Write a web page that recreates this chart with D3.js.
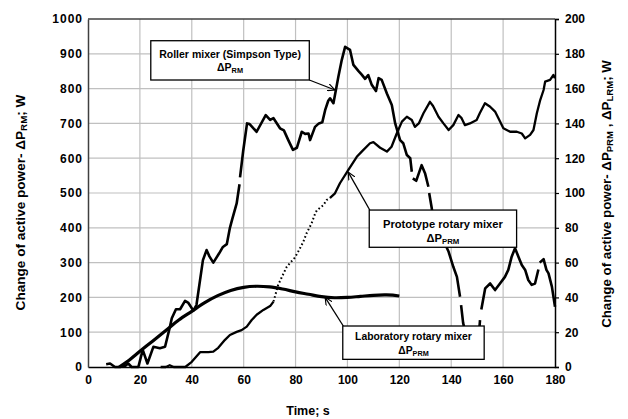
<!DOCTYPE html>
<html>
<head>
<meta charset="utf-8">
<script src="https://cdn.jsdelivr.net/npm/d3@7"></script>
<style>
  body { margin: 0; background: #fff; }
  text { font-family: Arial, "Liberation Sans", sans-serif; font-weight: bold; fill: #000; }
</style>
</head>
<body>
<svg width="628" height="419"></svg>
<script>
// time (s), power (W) on left axis; null = gap in the trace
const rollerData = [
  [7,8],[8.5,10],[10.4,0],[12.3,0],[14.3,3],[15.5,10],[16.8,0],[19.4,0],[21.1,49],[22.9,10],
  [25.2,58],[27.7,54],[29.7,58],[31.6,116],[32.3,140],[33.9,166],[35.5,166],[37.4,190],[38.7,184],
  [40.6,162],[41.8,178],[44.3,307],[45.7,336],[46.8,318],[48.3,300],[50.5,326],[52,345],[53.5,353],
  [54.7,400],[55.6,425],[57.3,470],[58.4,525],[58.5,null],[58.6,545],[59.8,620],[61.3,700],[62.3,698],
  [65,676],[68.5,724],[70.2,710],[71.5,715],[74,686],[75.5,680],[77.2,652],[79,624],[80.5,630],
  [82.4,676],[83.7,670],[85,671],[85.6,652],[87.5,690],[89,700],[90.3,703],[91.4,738],[92.6,765],
  [93.3,772],[94.6,758],[96.5,834],[97.8,882],[99.1,920],[101,911],[102.3,868],[104.2,851],
  [105.5,840],[106.8,828],[108,839],[109.3,812],[111,793],[112,830],[113.2,825],[115.2,786],
  [117.1,753],[118.4,700],[120.3,652],[121.5,643],[122.9,609],[124.2,600],[124.8,561],[124.9,null],
  [125.2,542],[126.5,535],[128.6,580],[129.9,557],[131.2,518],[131.3,null],[131.5,500],[132.5,456],
  [133.1,422],[136,380],[139,331],[140.8,288],[142.2,259],[143.4,202],[143.5,null],[143.8,178],
  [144.6,126],[147.5,40],[150.5,80],[151.1,135],[151.3,null],[151.6,165],[153.1,226],[155,240],
  [156.9,221],[158.8,240],[160.7,259],[162,279],[163.3,317],[164.6,341],[165.9,317],[167.2,293],
  [168.5,279],[169.7,250],[171,236],[172.3,240],[173.6,280],[173.8,null],[174.1,300],[175.6,310],
  [176.7,279],[177.5,269],[178.8,231],[180,173]
];

// time (s), power (W) on right axis
const prototypeData = [
  [28,0],[30,0],[31.5,1],[33,0],[37.5,0],[40,3],[43.2,8.5],[46.4,8.6],[48.3,8.8],[50.2,11],
  [52.8,15.6],[54.7,18.4],[57.3,20.2],[59.2,21.2],[61.2,23.2],[63.1,27],[65,30],[67.6,32.8],
  [70.2,35],[71.5,37.6],[73.3,47.2],[74.5,51],[76.6,57.6],[78,60],[79.8,63],[81.7,68.2],[83,72],
  [84.3,77],[86.2,82.6],[87.5,88],[88.2,90],[90.7,93],[92,96],[93.3,97.2],[95.2,99.8],[97.1,105.6],
  [100.3,113.2],[103.6,120.8],[105.5,123.8],[108.7,128.6],[110,129.2],[112.6,126],[115.2,123.8],
  [117,126.6],[119,134.2],[121,141],[122.9,143.8],[124.8,142],[126,138],[127.5,140],[129.3,145.8],
  [131.8,152.4],[133,150],[135.1,143.8],[137,140],[139,136.2],[140.8,139],[142.8,144.8],[144,143],
  [145.3,139],[147.2,140],[149.8,142],[151,145.8],[153,151.6],[155,149.6],[156.9,146.8],[158.2,143],
  [160.1,137.2],[162.7,135.2],[165.3,135.2],[167.2,134.2],[168.5,131.4],[170.4,133.4],[171.7,136.2],
  [173,145.8],[174.3,153.4],[175.6,159.2],[176.2,164],[178.1,165],[179.4,167.8],[180,166]
];
const prototypeDotted = [71.5, 93.3];

const labData = [
  [12,0],[15,3],[20,9],[25,15],[30,21],[35,27],[40,32],[45,37],[50,41],[55,44],[60,45.8],
  [65,46.4],[70,46],[75,44.8],[80,43.2],[85,41.8],[90,40.4],[95,39.8],[100,40],[105,40.6],
  [110,41.2],[115,41.4],[120,40.8]
];

const xTicks = [0, 20, 40, 60, 80, 100, 120, 140, 160, 180];
const leftTicks = [0, 100, 200, 300, 400, 500, 600, 700, 800, 900, 1000];
const rightTicks = [0, 20, 40, 60, 80, 100, 120, 140, 160, 180, 200];

// annotation boxes, anchored in data units (time, left-axis W)
const notes = [
  { title: "Roller mixer (Simpson Type)", sub: "RM", box: [24.2, 937.6, 85.3, 824.7], from: [85.3, 824.7], to: [95.2, 796], w: 142, lines: [17, 30.5] },
  { title: "Prototype rotary mixer", sub: "PRM", box: [108.4, 451, 165.2, 344], from: [108.6, 451], to: [100.3, 560], w: 120, lines: [17.5, 32] },
  { title: "Laboratory rotary mixer", sub: "PRM", box: [98.2, 117.8, 152.7, 22], from: [98.4, 117.8], to: [91.4, 200], w: 117, lines: [14, 27.5] }
];

const margin = { top: 19, right: 73, bottom: 52, left: 88 };
const svg = d3.select("svg");
const width = 628 - margin.left - margin.right;
const height = 419 - margin.top - margin.bottom;
const g = svg.append("g").attr("transform", `translate(${margin.left},${margin.top})`);

const x = d3.scaleLinear().domain([0, 180]).range([0, width]);
const yLeft = d3.scaleLinear().domain([0, 1000]).range([height, 0]);
const yRight = d3.scaleLinear().domain([0, 200]).range([height, 0]);

// squeeze or stretch a text along its own direction to a given length
function fitText(sel, target) {
  const len = sel.node().getComputedTextLength();
  return target / len;
}

// grid
g.append("g")
  .selectAll("line")
  .data(xTicks.slice(1, -1))
  .join("line")
  .attr("x1", d => x(d)).attr("x2", d => x(d))
  .attr("y1", 0).attr("y2", height)
  .attr("stroke", "#c0c0c0").attr("stroke-width", 1.2);
g.append("g")
  .selectAll("line")
  .data(leftTicks.slice(1, -1))
  .join("line")
  .attr("x1", 0).attr("x2", width)
  .attr("y1", d => yLeft(d)).attr("y2", d => yLeft(d))
  .attr("stroke", "#c0c0c0").attr("stroke-width", 1.2);

// frame
g.append("line").attr("x1", 0).attr("x2", width).attr("y1", 0).attr("y2", 0)
  .attr("stroke", "#404040").attr("stroke-width", 1.5);

// axes
const xAxis = g.append("g").attr("transform", `translate(0,${height})`)
  .call(d3.axisBottom(x).tickValues(xTicks).tickSize(0).tickPadding(8).tickFormat(d3.format("d")));
const lAxis = g.append("g")
  .call(d3.axisLeft(yLeft).tickValues(leftTicks).tickSize(0).tickPadding(5).tickFormat(d3.format("d")));
const rAxis = g.append("g").attr("transform", `translate(${width},0)`)
  .call(d3.axisRight(yRight).tickValues(rightTicks).tickSize(4).tickPadding(6).tickFormat(d3.format("d")));
[xAxis, lAxis, rAxis].forEach(a => {
  a.select(".domain").attr("stroke", "#000").attr("stroke-width", 1.5);
  a.selectAll(".tick line").attr("stroke", "#000").attr("stroke-width", 1.2);
  a.selectAll("text").attr("font-size", 12).attr("font-weight", "bold")
    .attr("font-family", "Arial, 'Liberation Sans', sans-serif").attr("fill", "#000");
});
lAxis.select(".domain").attr("stroke", "#404040");
lAxis.selectAll("text").attr("letter-spacing", 1);

// series
const lineL = d3.line().defined(d => d[1] !== null).x(d => x(d[0])).y(d => yLeft(d[1]));
const lineR = d3.line().defined(d => d[1] !== null).x(d => x(d[0])).y(d => yRight(d[1]));

g.append("path").datum(labData)
  .attr("d", d3.line().x(d => x(d[0])).y(d => yRight(d[1])).curve(d3.curveCatmullRom))
  .attr("fill", "none").attr("stroke", "#000").attr("stroke-width", 3.2);

const protoA = prototypeData.filter(d => d[0] <= prototypeDotted[0]);
const protoB = prototypeData.filter(d => d[0] >= prototypeDotted[0] && d[0] <= prototypeDotted[1]);
const protoC = prototypeData.filter(d => d[0] >= prototypeDotted[1]);
[protoA, protoC].forEach(part => {
  g.append("path").datum(part).attr("d", lineR)
    .attr("fill", "none").attr("stroke", "#000").attr("stroke-width", 2.3)
    .attr("stroke-linejoin", "round");
});
g.append("path").datum(protoB).attr("d", lineR)
  .attr("fill", "none").attr("stroke", "#000").attr("stroke-width", 2)
  .attr("stroke-dasharray", "1.6,2.4");

g.append("path").datum(rollerData).attr("d", lineL)
  .attr("fill", "none").attr("stroke", "#000").attr("stroke-width", 2.6)
  .attr("stroke-linejoin", "round");

// arrows and boxes
svg.append("defs").append("marker")
  .attr("id", "arrow").attr("viewBox", "0 0 10 10")
  .attr("refX", 9.5).attr("refY", 5)
  .attr("markerWidth", 8).attr("markerHeight", 8)
  .attr("markerUnits", "userSpaceOnUse")
  .attr("orient", "auto")
  .append("path").attr("d", "M0,0.5 L9.5,5 L0,9.5")
  .attr("fill", "none").attr("stroke", "#000").attr("stroke-width", 1.4);

notes.forEach(n => {
  g.append("line")
    .attr("x1", x(n.from[0])).attr("y1", yLeft(n.from[1]))
    .attr("x2", x(n.to[0])).attr("y2", yLeft(n.to[1]))
    .attr("stroke", "#000").attr("stroke-width", 1.3)
    .attr("marker-end", "url(#arrow)");
  const bx = x(n.box[0]), by = yLeft(n.box[1]);
  const bw = x(n.box[2]) - bx, bh = yLeft(n.box[3]) - by;
  g.append("rect").attr("x", bx).attr("y", by).attr("width", bw).attr("height", bh)
    .attr("fill", "#fff").attr("stroke", "#000").attr("stroke-width", 1.3);
  const t1 = g.append("text").attr("text-anchor", "middle").attr("font-size", 10).text(n.title);
  const k = fitText(t1, n.w);
  t1.attr("transform", `translate(${bx + bw / 2},${by + n.lines[0]}) scale(${k},1)`);
  const t2 = g.append("text").attr("text-anchor", "middle").attr("font-size", 10)
    .attr("transform", `translate(${bx + bw / 2},${by + n.lines[1]}) scale(${k},1)`);
  t2.append("tspan").text("ΔP");
  t2.append("tspan").attr("font-size", 7).attr("dy", 2).text(n.sub);
});

// axis titles
svg.append("text").attr("x", 308).attr("y", 415).attr("text-anchor", "middle")
  .attr("font-size", 12.5).text("Time;  s");

const lt = svg.append("text").attr("text-anchor", "middle").attr("font-size", 12.5);
lt.append("tspan").text("Change of active power- ΔP");
lt.append("tspan").attr("font-size", 9).attr("dy", 2).text("RM");
lt.append("tspan").attr("dy", -2).text("; W");
lt.attr("transform", `translate(25,202.5) rotate(-90) scale(${fitText(lt, 216)},1)`);

const rt = svg.append("text").attr("text-anchor", "middle").attr("font-size", 12.5);
rt.append("tspan").text("Change of active power- ΔP");
rt.append("tspan").attr("font-size", 9).attr("dy", 2).text("PRM");
rt.append("tspan").attr("dy", -2).text(" , ΔP");
rt.append("tspan").attr("font-size", 9).attr("dy", 2).text("LRM");
rt.append("tspan").attr("dy", -2).text("; W");
rt.attr("transform", `translate(611,194) rotate(-90) scale(${fitText(rt, 268)},1)`);
</script>
</body>
</html>
